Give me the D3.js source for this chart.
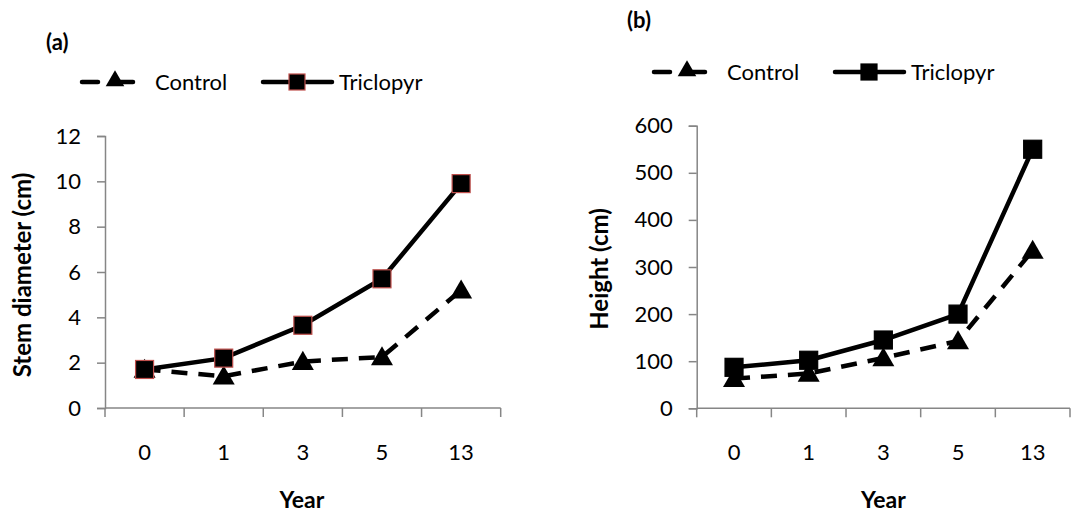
<!DOCTYPE html>
<html>
<head>
<meta charset="utf-8">
<script src="https://cdn.jsdelivr.net/npm/d3@7"></script>
<style>
  body { margin: 0; background: #fff; }
  svg text { font-family: Lato, "Open Sans", sans-serif; fill: #000; }
</style>
</head>
<body>
<div id="chart"></div>
<script>
// data
var years = ["0", "1", "3", "5", "13"];
var diamControl = [1.7, 1.4, 2.05, 2.25, 5.2];
var diamTriclopyr = [1.7, 2.2, 3.65, 5.7, 9.9];
var heightControl = [63, 74, 107, 143, 335];
var heightTriclopyr = [87, 102, 145, 200, 550];
var diamTicks = [0, 2, 4, 6, 8, 10, 12];
var heightTicks = [0, 100, 200, 300, 400, 500, 600];
var seriesNames = ["Control", "Triclopyr"];

var width = 1073, height = 514;
var svg = d3.select('#chart').append('svg')
    .attr('width', width)
    .attr('height', height);

var axisGrey = '#868686';

function panel(opt) {
  var x = d3.scaleBand().domain(years).range([opt.x0, opt.x1]);
  var y = d3.scaleLinear().domain([0, opt.ymax]).range([opt.yBottom, opt.yTop]);
  var g = svg.append('g');

  // y axis
  var ya = g.append('g').attr('transform', 'translate(' + opt.x0 + ',0)')
      .call(d3.axisLeft(y).tickValues(opt.ticks).tickSize(8).tickPadding(16));
  ya.select('.domain').attr('stroke', axisGrey).attr('stroke-width', 1.5);
  ya.selectAll('.tick line').attr('stroke', axisGrey).attr('stroke-width', 1.5);
  ya.selectAll('.tick text').style('font-size', '22px').attr('fill', '#000');

  // x axis, ticks between categories
  var xa = g.append('g').attr('transform', 'translate(0,' + opt.yBottom + ')');
  xa.append('line').attr('x1', opt.x0).attr('x2', opt.x1)
      .attr('stroke', axisGrey).attr('stroke-width', 1.5);
  var edges = years.map(function(d) { return x(d); }).concat([opt.x1]);
  xa.selectAll('line.tk').data(edges).enter().append('line')
      .attr('class', 'tk')
      .attr('x1', function(d) { return d; }).attr('x2', function(d) { return d; })
      .attr('y1', 0).attr('y2', 9)
      .attr('stroke', axisGrey).attr('stroke-width', 1.5);
  xa.selectAll('text').data(years).enter().append('text')
      .attr('x', function(d) { return x(d) + x.bandwidth() / 2; })
      .attr('y', 52)
      .attr('text-anchor', 'middle')
      .style('font-size', '22px')
      .text(function(d) { return d; });

  // axis titles
  g.append('text')
      .attr('transform', 'translate(' + opt.ylabX + ',' + opt.ylabY + ') rotate(-90)')
      .attr('text-anchor', 'middle')
      .attr('dy', '0.35em')
      .style('font-size', '24px').style('font-weight', 'bold')
      .text(opt.ylabel);
  g.append('text')
      .attr('x', (opt.x0 + opt.x1) / 2 + opt.yearDx)
      .attr('y', 500)
      .attr('text-anchor', 'middle')
      .attr('dy', '0.35em')
      .style('font-size', '23px').style('font-weight', 'bold')
      .text('Year');

  // panel letter
  g.append('text').attr('x', opt.letterX).attr('y', opt.letterY)
      .attr('dy', '0.35em')
      .style('font-size', '22px').style('font-weight', 'bold')
      .text(opt.letter);

  var cx = function(d, i) { return x(years[i]) + x.bandwidth() / 2; };
  var line = d3.line().x(cx).y(function(d) { return y(d); });

  // control line (dashed)
  g.append('path').datum(opt.control)
      .attr('d', line).attr('fill', 'none')
      .attr('stroke', '#000').attr('stroke-width', 4.5)
      .attr('stroke-dasharray', '16,11');
  // triclopyr line
  g.append('path').datum(opt.triclopyr)
      .attr('d', line).attr('fill', 'none')
      .attr('stroke', '#000').attr('stroke-width', 4.5);

  var tri = d3.symbol().type(d3.symbolTriangle).size(210);
  g.selectAll('path.tri').data(opt.control).enter().append('path')
      .attr('class', 'tri')
      .attr('d', tri)
      .attr('transform', function(d, i) { return 'translate(' + cx(d, i) + ',' + (y(d) + 2) + ')'; })
      .attr('fill', '#000');

  var s = 18;
  g.selectAll('rect.sq').data(opt.triclopyr).enter().append('rect')
      .attr('class', 'sq')
      .attr('x', function(d, i) { return cx(d, i) - s / 2; })
      .attr('y', function(d) { return y(d) - s / 2; })
      .attr('width', s).attr('height', s)
      .attr('fill', '#000')
      .attr('stroke', opt.sqStroke).attr('stroke-width', 1.2);

  // legend
  var ly = opt.legY, lx = opt.legX;
  var lg = g.append('g');
  lg.append('line').attr('x1', lx).attr('x2', lx + 16).attr('y1', ly).attr('y2', ly)
      .attr('stroke', '#000').attr('stroke-width', 4.5).attr('stroke-linecap', 'round');
  lg.append('line').attr('x1', lx + 34).attr('x2', lx + 51).attr('y1', ly).attr('y2', ly)
      .attr('stroke', '#000').attr('stroke-width', 4.5).attr('stroke-linecap', 'round');
  lg.append('path').attr('d', d3.symbol().type(d3.symbolTriangle).size(150))
      .attr('transform', 'translate(' + (lx + 33) + ',' + (ly - 1) + ')')
      .attr('fill', '#000');
  lg.append('text').attr('x', lx + 73).attr('y', ly).attr('dy', '0.35em')
      .style('font-size', '22px').text(seriesNames[0]);
  lg.append('line').attr('x1', lx + 181).attr('x2', lx + 250).attr('y1', ly).attr('y2', ly)
      .attr('stroke', '#000').attr('stroke-width', 4.5).attr('stroke-linecap', 'round');
  lg.append('rect').attr('x', lx + 207).attr('y', ly - 8).attr('width', 16).attr('height', 16)
      .attr('fill', '#000').attr('stroke', opt.sqStroke).attr('stroke-width', 1.2);
  lg.append('text').attr('x', lx + 257).attr('y', ly).attr('dy', '0.35em')
      .style('font-size', '22px').text(seriesNames[1]);
}

panel({
  x0: 105, x1: 500.7, yTop: 136, yBottom: 408, ymax: 12,
  ticks: diamTicks, control: diamControl, triclopyr: diamTriclopyr,
  ylabel: 'Stem diameter (cm)', ylabX: 23, ylabY: 275, yearDx: -1,
  letter: '(a)', letterX: 46, letterY: 42,
  legX: 82, legY: 82, sqStroke: '#c0504d'
});

panel({
  x0: 696.7, x1: 1070, yTop: 125.7, yBottom: 408.3, ymax: 600,
  ticks: heightTicks, control: heightControl, triclopyr: heightTriclopyr,
  ylabel: 'Height (cm)', ylabX: 600, ylabY: 269, yearDx: 0,
  letter: '(b)', letterX: 627, letterY: 20,
  legX: 654, legY: 72, sqStroke: '#000'
});
</script>
</body>
</html>
